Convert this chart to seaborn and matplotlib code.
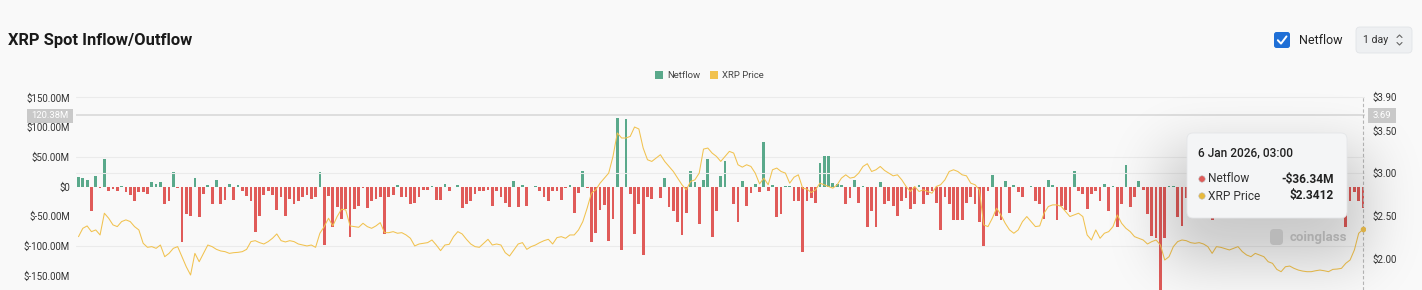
import numpy as np
import pandas as pd
import matplotlib
matplotlib.use("Agg")
import matplotlib.pyplot as plt
import seaborn as sns
from matplotlib.patches import FancyBboxPatch, Rectangle, Circle

# ---------------- data ----------------
netflow_part1 = [16, 14, 11, -42, 18, -2, 47, -7, -5, -7, 1, -10, -14, -25, -10, -9, -12, 7, 5, 8,
                 -29, -24, 25, -2, -93, -46, -50, 15, -52, -12, 2, -30, 11, -30, -22, 5, -22, 3, -7, -16,
                 -24, -77, -49, -14, -7, -14, -40, -18, -50, -21]
netflow_part2 = [-29, -24, -17, -14, -21, -17, 25, -98, -16, -69, -35, -54, -38, -85, -38, -32, -3, -36, -24, -21,
                 -17, -80, -17, -14, 2, -18, -17, -29, -27, -17, -6, -6, 1, -22, -22, 4, -8, -1, 2, -36,
                 -29, -24, -12, -7, -8, -6, -33, -7, -17, -27]
netflow_part3 = [-34, 9, -35, 3, -33, -1, 1, -7, -17, -25, -8, -7, -22, -2, 2, -45, -11, 26, -2, -93,
                 -78, -40, -31, -92, -54, 116, -107, 114, -12, -80, -29, -115, -17, -21, -1, -19, 15, -35, -42, -60,
                 -81, -44, 26, 8, -63, 11, 47, -85, -41]
netflow_part4 = [17, 43, -1, -29, -60, 9, -32, -11, 5, -10, 75, -7, 3, -51, -46, 1, 1, -25, -24, -111,
                 -24, -19, -27, 40, 52, 52, 6, 5, 3, -29, -19, 11, -28, 1, -69, -41, -69, 8, -29, -24,
                 -32, -49, -24, -19, -38, -29, 3, -29, -14, -7]
netflow_part5 = [-27, -74, -18, -29, -57, -57, -57, -28, -18, -29, -60, -100, -7, 20, -49, -57, 10, -45, 3, -10,
                 -17, -1, 0.5, -24, -29, -54, 11, 2, -57, -32, -40, -43, 26, -7, -12, -38, -12, -7, -24, 5,
                 -41, 1, -68, -29, 36, -35, -18, 9, -6, -46, -83]
netflow_part6 = [-86, -190, -86, 1, 1, -52, -66,
                 -20, -35, 5, -12, -40, -28, -56, -15, -8, 3, -22, -30, -10, 6, -18, -25, -5, -40, -12, 4,
                 -30, -20, -8, -45, -15, 2, -10, -35, -22, -6, 8, -28, -14, -40, -18, -9, -25,
                 -68, -24, -10, -24, -36.34]

price_part1 = [2.256, 2.354, 2.382, 2.315, 2.335, 2.276, 2.531, 2.472, 2.394, 2.374, 2.433, 2.453, 2.433, 2.374,
               2.335, 2.178, 2.131, 2.139, 2.119, 2.158, 2.021, 2.060, 2.119, 2.139, 2.021, 1.903, 1.806, 2.060,
               1.962, 2.060, 2.158, 2.139, 2.107, 2.088, 2.080, 2.060, 2.068, 2.072, 2.080, 2.107, 2.198, 2.209,
               2.186, 2.170, 2.198, 2.237, 2.288, 2.209, 2.194, 2.209]
price_part2 = [2.198, 2.170, 2.158, 2.147, 2.158, 2.131, 2.296, 2.374, 2.472, 2.382, 2.492, 2.578, 2.570, 2.382,
               2.374, 2.366, 2.413, 2.374, 2.354, 2.382, 2.421, 2.303, 2.303, 2.315, 2.296, 2.303, 2.276, 2.237,
               2.147, 2.170, 2.178, 2.186, 2.217, 2.158, 2.092, 2.158, 2.166, 2.256, 2.315, 2.288, 2.225, 2.170,
               2.139, 2.131, 2.178, 2.225, 2.158, 2.170, 2.158, 2.068]
price_part3 = [2.029, 2.100, 2.170, 2.186, 2.107, 2.139, 2.158, 2.186, 2.209, 2.225, 2.170, 2.245, 2.256, 2.237,
               2.276, 2.276, 2.335, 2.433, 2.590, 2.766, 2.806, 2.884, 2.943, 3.002, 3.198, 3.473, 3.414, 3.414,
               3.433, 3.543, 3.520, 3.296, 3.159, 3.139, 3.178, 3.218, 3.139, 3.080, 3.021, 2.943, 2.865, 2.806,
               2.904, 2.923, 3.002, 3.284, 3.296, 3.237, 3.198]
price_part4 = [3.139, 3.198, 3.257, 3.237, 3.100, 3.072, 3.100, 3.080, 3.002, 2.876, 2.943, 2.865, 3.041, 3.061,
               3.021, 3.002, 2.884, 2.954, 2.982, 2.825, 2.814, 2.774, 2.806, 2.884, 2.865, 2.845, 2.825, 2.865,
               2.943, 2.982, 2.943, 2.954, 3.002, 3.080, 3.112, 3.021, 3.041, 3.080, 3.033, 3.002, 2.970, 2.982,
               2.923, 2.845, 2.786, 2.845, 2.786, 2.806, 2.786, 2.766]
price_part5 = [2.845, 2.865, 2.923, 3.021, 3.041, 3.021, 2.982, 2.970, 2.884, 2.865, 2.806, 2.394, 2.374, 2.472,
               2.590, 2.511, 2.413, 2.335, 2.296, 2.335, 2.433, 2.492, 2.433, 2.374, 2.382, 2.531, 2.610, 2.629,
               2.629, 2.610, 2.551, 2.492, 2.511, 2.531, 2.492, 2.276, 2.217, 2.335, 2.237, 2.296, 2.315, 2.374,
               2.511, 2.413, 2.354, 2.315, 2.256, 2.237, 2.217, 2.170, 2.198]
price_part6 = [2.217, 2.158, 1.982, 2.021, 2.139, 2.198, 2.217, 2.209, 2.186, 2.178, 2.186, 2.170, 2.139, 2.060,
               2.139, 2.131, 2.115, 2.100, 2.119, 2.139, 2.080, 2.041, 2.021, 2.060, 2.041, 2.021, 1.962, 1.943,
               1.872, 1.845, 1.903, 1.911, 1.884, 1.864, 1.852, 1.845, 1.845, 1.856, 1.864, 1.856, 1.845, 1.872,
               1.876, 1.884, 1.943, 1.982, 2.100, 2.296, 2.3412]

netflow = np.array(netflow_part1 + netflow_part2 + netflow_part3 + netflow_part4 + netflow_part5 + netflow_part6, float)
price = np.array(price_part1 + price_part2 + price_part3 + price_part4 + price_part5 + price_part6, float)
N = len(netflow)
dates = pd.date_range(end=pd.Timestamp("2026-01-06 03:00"), periods=N, freq="D")

left_ticks = [150, 100, 50, 0, -50, -100, -150]
left_labels = ["$150.00M", "$100.00M", "$50.00M", "$0", "$-50.00M", "$-100.00M", "$-150.00M"]
right_ticks = [3.90, 3.50, 3.00, 2.50, 2.00]
right_labels = ["$3.90", "$3.50", "$3.00", "$2.50", "$2.00"]
left_grid = [150, 50, -100]
right_grid = [3.00]
cross_netflow = 120.38
cross_price = 3.69
title = "XRP Spot Inflow/Outflow"
tooltip_date = "6 Jan 2026, 03:00"
tooltip_netflow = "-$36.34M"
tooltip_price = "$2.3412"

# ---------------- style ----------------
GREEN = "#5aa98b"
RED = "#e05b59"
YELLOW = "#f1c24f"
BG = "#f9f9f9"
TXT = "#333333"

sns.set_theme(style="white")
plt.rcParams['font.family'] = ['Roboto', 'DejaVu Sans']

W, H = 1422, 290
fig = plt.figure(figsize=(W / 100, H / 100), dpi=100, facecolor=BG)

ax_l, ax_r, ax_t, ax_b = 76.35, 1365.16, 96.0, 290.0
ax = fig.add_axes([ax_l / W, 1 - ax_b / H, (ax_r - ax_l) / W, (ax_b - ax_t) / H])
ax.set_facecolor(BG)

df = pd.DataFrame({"i": np.arange(N), "date": dates, "netflow": netflow, "price": price})
df["dir"] = np.where(df["netflow"] >= 0, "in", "out")

for v in left_grid:
    ax.axhline(v, color="#ebebeb", lw=0.8, zorder=0)
ax.axhline(cross_netflow, color="#dedede", lw=1.4, zorder=0.5)

sns.barplot(data=df, x="i", y="netflow", hue="dir", palette={"in": GREEN, "out": RED},
            native_scale=True, width=0.64, dodge=False, legend=False, errorbar=None,
            saturation=1, linewidth=0, ax=ax)
ax.set_xlim(-0.5, N - 0.5)
ax.set_ylim(-174.24, 152.36)
ax.set_yticks(left_ticks)
ax.set_yticklabels(left_labels)
ax.set_xticks([])
ax.set_xlabel("")
ax.set_ylabel("")
ax.tick_params(axis="y", length=0, pad=4.5, labelsize=7, labelcolor=TXT)
for s in ax.spines.values():
    s.set_visible(False)

ax2 = ax.twinx()
for v in right_grid:
    ax2.axhline(v, color="#ebebeb", lw=0.8, zorder=0)
sns.lineplot(data=df, x="i", y="price", ax=ax2, color=YELLOW, lw=0.75)
ax2.plot(df["i"].iloc[-1], df["price"].iloc[-1], "o", ms=3.0, color=YELLOW, zorder=5)
ax2.axvline(N - 1, color="#b8b8b8", lw=0.8, ls=(0, (3, 2)))
ax2.set_xlim(-0.5, N - 0.5)
ax2.set_ylim(1.630, 3.907)
ax2.set_yticks(right_ticks)
ax2.set_yticklabels(right_labels)
ax2.set_xlabel("")
ax2.set_ylabel("")
ax2.tick_params(axis="y", length=0, pad=5.5, labelsize=7, labelcolor=TXT)
for s in ax2.spines.values():
    s.set_visible(False)

# ---------------- overlay (pixel coordinates) ----------------
ov = fig.add_axes([0, 0, 1, 1], zorder=10)
ov.set_xlim(0, W)
ov.set_ylim(H, 0)
ov.axis("off")
ov.patch.set_alpha(0)

# soft shadow of tooltip
yy, xx = np.mgrid[0:H, 0:W]
mask = ((xx >= 1165) & (xx <= 1365) & (yy >= 150) & (yy <= 260)).astype(float)
sig = 28
k = np.arange(-3 * sig, 3 * sig + 1)
g = np.exp(-k ** 2 / (2 * sig ** 2))
g /= g.sum()
blur = np.apply_along_axis(lambda r: np.convolve(r, g, mode="same"), 1, mask)
blur = np.apply_along_axis(lambda c: np.convolve(c, g, mode="same"), 0, blur)
shadow = np.zeros((H, W, 4))
shadow[..., 3] = blur * 0.2
ov.imshow(shadow, extent=(0, W, H, 0), aspect="auto", zorder=1, interpolation="bilinear")

# tooltip box
ov.add_patch(FancyBboxPatch((1187, 133), 160, 85, boxstyle="round,pad=0,rounding_size=6",
                            fc="#f4f5f6", ec="#e4e6e8", lw=0.6, zorder=3))
ov.text(1198, 153, tooltip_date, fontsize=8.6, color="#222222", va="center", ha="left",
        weight="medium", zorder=4)
ov.add_patch(Circle((1202, 179), 3.2, fc=RED, ec="#bbbbbb", lw=0.4, zorder=4))
ov.text(1208, 179, "Netflow", fontsize=8.6, color="#333333", va="center", ha="left", zorder=4)
ov.text(1334, 179, tooltip_netflow, fontsize=8.6, color="#222222", va="center", ha="right",
        weight="bold", zorder=4)
ov.add_patch(Circle((1202, 196), 3.2, fc="#e7b93c", ec="#bbbbbb", lw=0.4, zorder=4))
ov.text(1208, 196, "XRP Price", fontsize=8.6, color="#333333", va="center", ha="left", zorder=4)
ov.text(1334, 196, tooltip_price, fontsize=8.6, color="#222222", va="center", ha="right",
        weight="bold", zorder=4)

# watermark
ov.add_patch(FancyBboxPatch((1270, 229), 13, 16, boxstyle="round,pad=0,rounding_size=4",
                            fc="#b9b9b9", ec="none", zorder=2))
ov.text(1290, 237, "coinglass", fontsize=9.5, color="#acacac", weight="bold",
        va="center", ha="left", zorder=2)

# crosshair value labels
ov.add_patch(Rectangle((27, 109), 46, 14, fc="#c9c9c9", ec="none", zorder=3))
ov.text(50, 116, "120.38M", fontsize=6.8, color="white", va="center", ha="center", zorder=4)
ov.add_patch(Rectangle((1368, 108), 28, 15, fc="#c9c9c9", ec="none", zorder=3))
ov.text(1382, 115.5, "3.69", fontsize=6.8, color="white", va="center", ha="center", zorder=4)

# title
ov.text(8, 40, title, fontsize=11.9, weight="bold", color="#1a1a1a", va="center", ha="left")

# legend
ov.add_patch(Rectangle((655, 71), 8, 8, fc=GREEN, ec="none"))
ov.text(667, 75, "Netflow", fontsize=6.8, color="#444444", va="center", ha="left")
ov.add_patch(Rectangle((710, 71), 8, 8, fc=YELLOW, ec="none"))
ov.text(722, 75, "XRP Price", fontsize=6.8, color="#444444", va="center", ha="left")

# top-right controls
ov.add_patch(FancyBboxPatch((1274, 32), 16, 16, boxstyle="round,pad=0,rounding_size=2.5",
                            fc="#1f6fd6", ec="none"))
ov.plot([1277.8, 1281, 1286.5], [40.2, 43.6, 36.4], color="white", lw=1.4, solid_capstyle="round")
ov.text(1299, 40, "Netflow", fontsize=9, color="#222222", va="center", ha="left")
ov.add_patch(FancyBboxPatch((1356, 27), 56, 26, boxstyle="round,pad=0,rounding_size=4",
                            fc="#eef0f2", ec="#e1e4e7", lw=0.6))
ov.text(1363, 40, "1 day", fontsize=7.6, color="#333333", va="center", ha="left")
ov.plot([1397, 1399.5, 1402], [37.5, 35, 37.5], color="#666666", lw=0.8)
ov.plot([1397, 1399.5, 1402], [42.5, 45, 42.5], color="#666666", lw=0.8)

fig.savefig("out.png", dpi=100, facecolor=BG)
